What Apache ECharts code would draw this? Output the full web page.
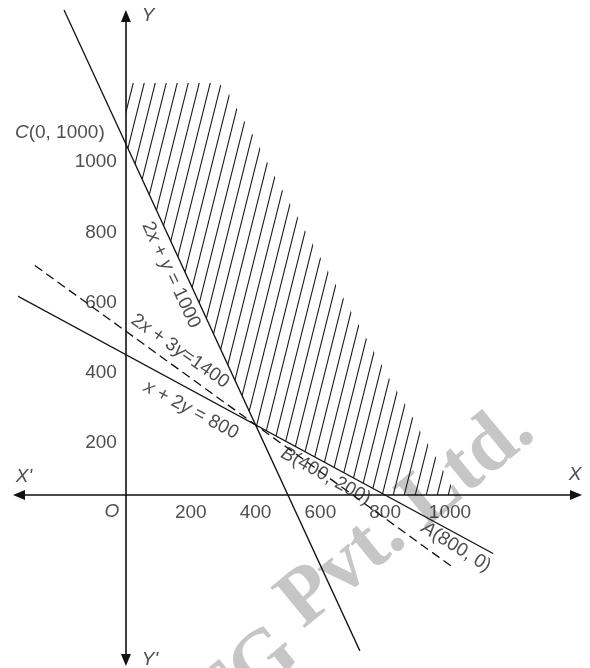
<!DOCTYPE html>
<html>
<head>
<meta charset="utf-8">
<script src="https://cdn.jsdelivr.net/npm/echarts@6/dist/echarts.min.js"></script>
<style>
  html, body { margin: 0; padding: 0; background: #fff; }
  #chart { width: 590px; height: 668px; }
</style>
</head>
<body>
<div id="chart"></div>
<script>
// ---- data ----
const xTicks = [200, 400, 600, 800, 1000];
const yTicks = [200, 400, 600, 800, 1000];

// constraint lines, endpoints in data units
const line2xPlusY = [[-191, 1382], [722, -444]];        // 2x + y = 1000
const line2xPlus3y = [[-281, 654], [1015, -210]];       // 2x + 3y = 1400 (dashed)
const lineXPlus2y = [[-346, 573], [1133, -166.5]];      // x + 2y = 800

// hatched (feasible) region outline
const regionPts = [
  [0, 1174], [0, 1000], [400, 200], [800, 0], [1018, 0],
  [994, 46], [954, 111], [910, 179], [867, 251], [821, 319],
  [639, 613], [460, 906], [398, 1017], [373, 1054], [330, 1120],
  [312, 1154], [284, 1174]
];

// text annotations (anchor in data units)
const annotations = [
  { text: '{i|C}(0, 1000)', at: [-204, 1031], rotate: 0 },
  { text: '2{i|x} + {i|y} = 1000', at: [139, 627], rotate: -65 },
  { text: '2{i|x} + 3{i|y}=1400', at: [167, 410], rotate: -35 },
  { text: '{i|x} + 2{i|y} = 800', at: [201, 242], rotate: -28 },
  { text: '{i|B}(400, 200)', at: [617, 54], rotate: -29 },
  { text: '{i|A}(800, 0)', at: [1019, -148], rotate: -32 },
  { text: '{i|Y}', at: [68, 1365], rotate: 0 },
  { text: "{i|Y'}", at: [74, -470], rotate: 0 },
  { text: "{i|X'}", at: [-315, 51], rotate: 0 },
  { text: '{i|X}', at: [1386, 57], rotate: 0 },
  { text: '{i|O}', at: [-43, -48], rotate: 0 }
];

// ---- chart ----
const FONT = 'Liberation Sans, Arial, sans-serif';
const TXT = '#222';
const FS = 19;

function hatchPattern() {
  const w = 11, h = 44;
  const c = document.createElement('canvas');
  c.width = w; c.height = h;
  const g = c.getContext('2d');
  g.strokeStyle = '#1a1a1a';
  g.lineWidth = 1.1;
  for (let k = -1; k <= 1; k++) {
    g.beginPath();
    g.moveTo(k * w, h);
    g.lineTo(k * w + w, 0);
    g.stroke();
  }
  return c;
}
const pattern = { image: hatchPattern(), repeat: 'repeat' };

const richStyles = {
  i: { fontStyle: 'italic', fontSize: FS, fontFamily: FONT, color: TXT }
};

const chart = echarts.init(document.getElementById('chart'), null, { renderer: 'canvas' });

const axisCommon = {
  type: 'value',
  axisLine: {
    show: true, onZero: true,
    symbol: ['triangle', 'triangle'],
    symbolSize: [10, 12],
    lineStyle: { color: '#111', width: 1.6 }
  },
  axisTick: { show: false },
  axisLabel: { show: false },
  splitLine: { show: false }
};

function lineSeries(data, dashed) {
  return {
    type: 'line', data: data, symbol: 'none', clip: false, silent: true,
    lineStyle: { color: '#111', width: 1.3, type: dashed ? [9, 5] : 'solid' },
    z: 3
  };
}

const WM_ROT = 39.5 * Math.PI / 180;
const WM_FONT = 'bold 81px "Liberation Serif", serif';

chart.setOption({
  animation: false,
  backgroundColor: '#fff',
  grid: { left: 19, right: 14, top: 16, bottom: 8, containLabel: false },
  xAxis: Object.assign({}, axisCommon, { min: -330, max: 1389 }),
  yAxis: Object.assign({}, axisCommon, { min: -470, max: 1365 }),
  graphic: [{
    type: 'text', x: 524, y: 420, rotation: WM_ROT, z: -10, silent: true,
    style: {
      text: 'Pvt. Ltd.', fill: '#c6c6c6', font: WM_FONT,
      align: 'right', verticalAlign: 'middle'
    }
  }, {
    type: 'text', x: 289, y: 643, rotation: WM_ROT, z: -10, silent: true,
    style: {
      text: 'MTG', fill: '#c6c6c6', font: WM_FONT,
      align: 'right', verticalAlign: 'middle'
    }
  }],
  series: [
    {
      type: 'custom', silent: true, z: 1,
      data: regionPts,
      renderItem: function (params, api) {
        if (params.dataIndex !== 0) return;
        const pts = regionPts.map(function (p) { return api.coord(p); });
        return { type: 'polygon', shape: { points: pts }, style: { fill: pattern, stroke: null } };
      }
    },
    lineSeries(line2xPlusY, false),
    lineSeries(line2xPlus3y, true),
    lineSeries(lineXPlus2y, false),
    {
      type: 'scatter', symbolSize: 0, clip: false, silent: true, z: 5,
      data: xTicks.map(function (v) { return [v, 0]; }),
      label: {
        show: true, position: 'bottom', distance: 8,
        formatter: function (p) { return String(p.value[0]); },
        color: TXT, fontSize: FS, fontFamily: FONT
      }
    },
    {
      type: 'scatter', symbolSize: 0, clip: false, silent: true, z: 5,
      data: yTicks.map(function (v) { return [0, v]; }),
      label: {
        show: true, position: 'left', distance: 9, offset: [0, 18],
        formatter: function (p) { return String(p.value[1]); },
        color: TXT, fontSize: FS, fontFamily: FONT
      }
    },
    {
      type: 'scatter', symbolSize: 0, clip: false, silent: true, z: 6,
      data: annotations.map(function (a) {
        return {
          value: a.at,
          label: { rotate: a.rotate, formatter: a.text }
        };
      }),
      label: {
        show: true, position: 'inside',
        color: TXT, fontSize: FS, fontFamily: FONT,
        rich: richStyles
      }
    }
  ]
});
</script>
</body>
</html>
